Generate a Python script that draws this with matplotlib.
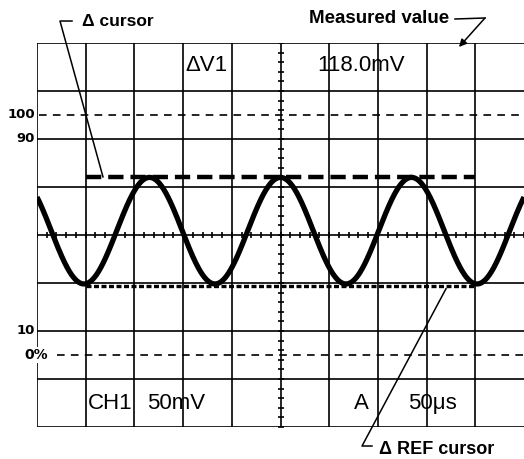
import numpy as np
import matplotlib
matplotlib.use('Agg')
import matplotlib.pyplot as plt

plt.rcParams['lines.scale_dashes'] = False

# ---- screen grid (divisions) ----
x_divisions = 10
y_divisions = 8
center_x = 5
center_y = 4
minor_step = 0.2

# ---- percent scale on the left (levels in divisions) ----
scale_levels = [6.5, 6.0, 2.0, 1.5]
scale_labels = ['100', '90', '10', '0%']
dashed_levels = [6.5, 1.5]
dashed_starts = [0.05, 0.41]

# ---- sine trace, parameters (divisions) ----
wave_center = 4.09
wave_amplitude = 1.11
wave_period = 2.69
wave_first_trough = 0.965

# ---- cursors (divisions) ----
delta_cursor_level = 5.21
ref_cursor_level = 2.94
cursor_start = 1.0
cursor_end = 9.0

# ---- readouts ----
top_texts = ['\u0394V1', '118.0mV']
top_text_x = [3.04, 5.75]
bottom_texts = ['CH1', '50mV', 'A', '50\u03bcs']
bottom_text_x = [1.05, 2.26, 6.51, 7.62]

W, H = 524, 459
fig = plt.figure(figsize=(W / 100, H / 100), dpi=100)
fig.patch.set_facecolor('white')
ax = fig.add_axes([37 / W, 32 / H, 487 / W, 384 / H])
ax.set_xlim(0, x_divisions)
ax.set_ylim(0, y_divisions)
ax.axis('off')

grid_kw = dict(color='black', lw=1.2, zorder=2)
ax.vlines(np.arange(0, x_divisions), 0, y_divisions, **grid_kw)
ax.hlines(np.arange(0, y_divisions + 1), 0, x_divisions, **grid_kw)

# minor ticks on centre lines
mx = np.arange(0, x_divisions + 0.001, minor_step)
ax.plot(mx, np.full_like(mx, center_y), ls='none', marker='|', ms=5, mew=1.2,
        color='black', zorder=2)
my = np.arange(0, y_divisions + 0.001, minor_step)
ax.plot(np.full_like(my, center_x), my, ls='none', marker='_', ms=5, mew=1.2,
        color='black', zorder=2)

# dashed 0% / 100% lines
for lvl, st in zip(dashed_levels, dashed_starts):
    ax.plot([st, x_divisions], [lvl, lvl], color='black', lw=1.2,
            dashes=(5.5, 4.5), zorder=2)

# left scale labels
for lvl, lab in zip(scale_levels, scale_labels):
    if lab.endswith('%'):
        ax.text(0.23, lvl, lab, ha='right', va='center', fontsize=10,
                family='DejaVu Sans', weight='bold', zorder=5, clip_on=False,
                bbox=dict(facecolor='white', edgecolor='none', pad=0.5))
    else:
        ax.text(-0.04, lvl, lab, ha='right', va='center', fontsize=9.5,
                family='DejaVu Sans', weight='bold', clip_on=False)

# waveform
t = np.linspace(0, x_divisions, 1500)
trace = wave_center - wave_amplitude * np.cos(2 * np.pi * (t - wave_first_trough) / wave_period)
ax.plot(t, trace, color='black', lw=3.8, solid_capstyle='butt', zorder=4)

# cursors
ax.plot([cursor_start, cursor_end], [delta_cursor_level] * 2, color='black',
        lw=3.2, dashes=(11, 5), zorder=5)
ax.plot([cursor_start, cursor_end], [ref_cursor_level] * 2, color='black',
        lw=2.4, dashes=(3.6, 1.8), zorder=5)

# readout texts
font = 'Liberation Sans'
for s, x in zip(top_texts, top_text_x):
    ax.text(x, 7.54, s, ha='left', va='center', fontsize=16, family=font, zorder=6)
for s, x in zip(bottom_texts, bottom_text_x):
    ax.text(x, 0.48, s, ha='left', va='center', fontsize=16, family=font, zorder=6)

# annotations
lk = dict(color='black', lw=1.1, clip_on=False, zorder=6)
ax.plot([0.719, 0.472, 1.355], [8.458, 8.458, delta_cursor_level], **lk)
ax.text(0.924, 8.458, '\u0394 cursor', ha='left', va='center', fontsize=12.5,
        family=font, weight='bold', clip_on=False)

ax.text(5.585, 8.5, 'Measured value', ha='left', va='center', fontsize=13.5,
        family=font, weight='bold', clip_on=False)
ax.plot([8.583, 9.199], [8.50, 8.521], **lk)
ax.annotate('', xy=(8.665, 7.917), xytext=(9.199, 8.521),
            arrowprops=dict(arrowstyle='-|>', color='black', lw=1.1,
                            mutation_scale=11, shrinkA=0, shrinkB=0),
            annotation_clip=False)

ax.plot([8.398, 6.674, 6.879], [ref_cursor_level - 0.06, -0.396, -0.396], **lk)
ax.text(7.023, -0.479, '\u0394 REF cursor', ha='left', va='center', fontsize=13,
        family=font, weight='bold', clip_on=False)

fig.savefig('out.png', dpi=100, facecolor='white')
